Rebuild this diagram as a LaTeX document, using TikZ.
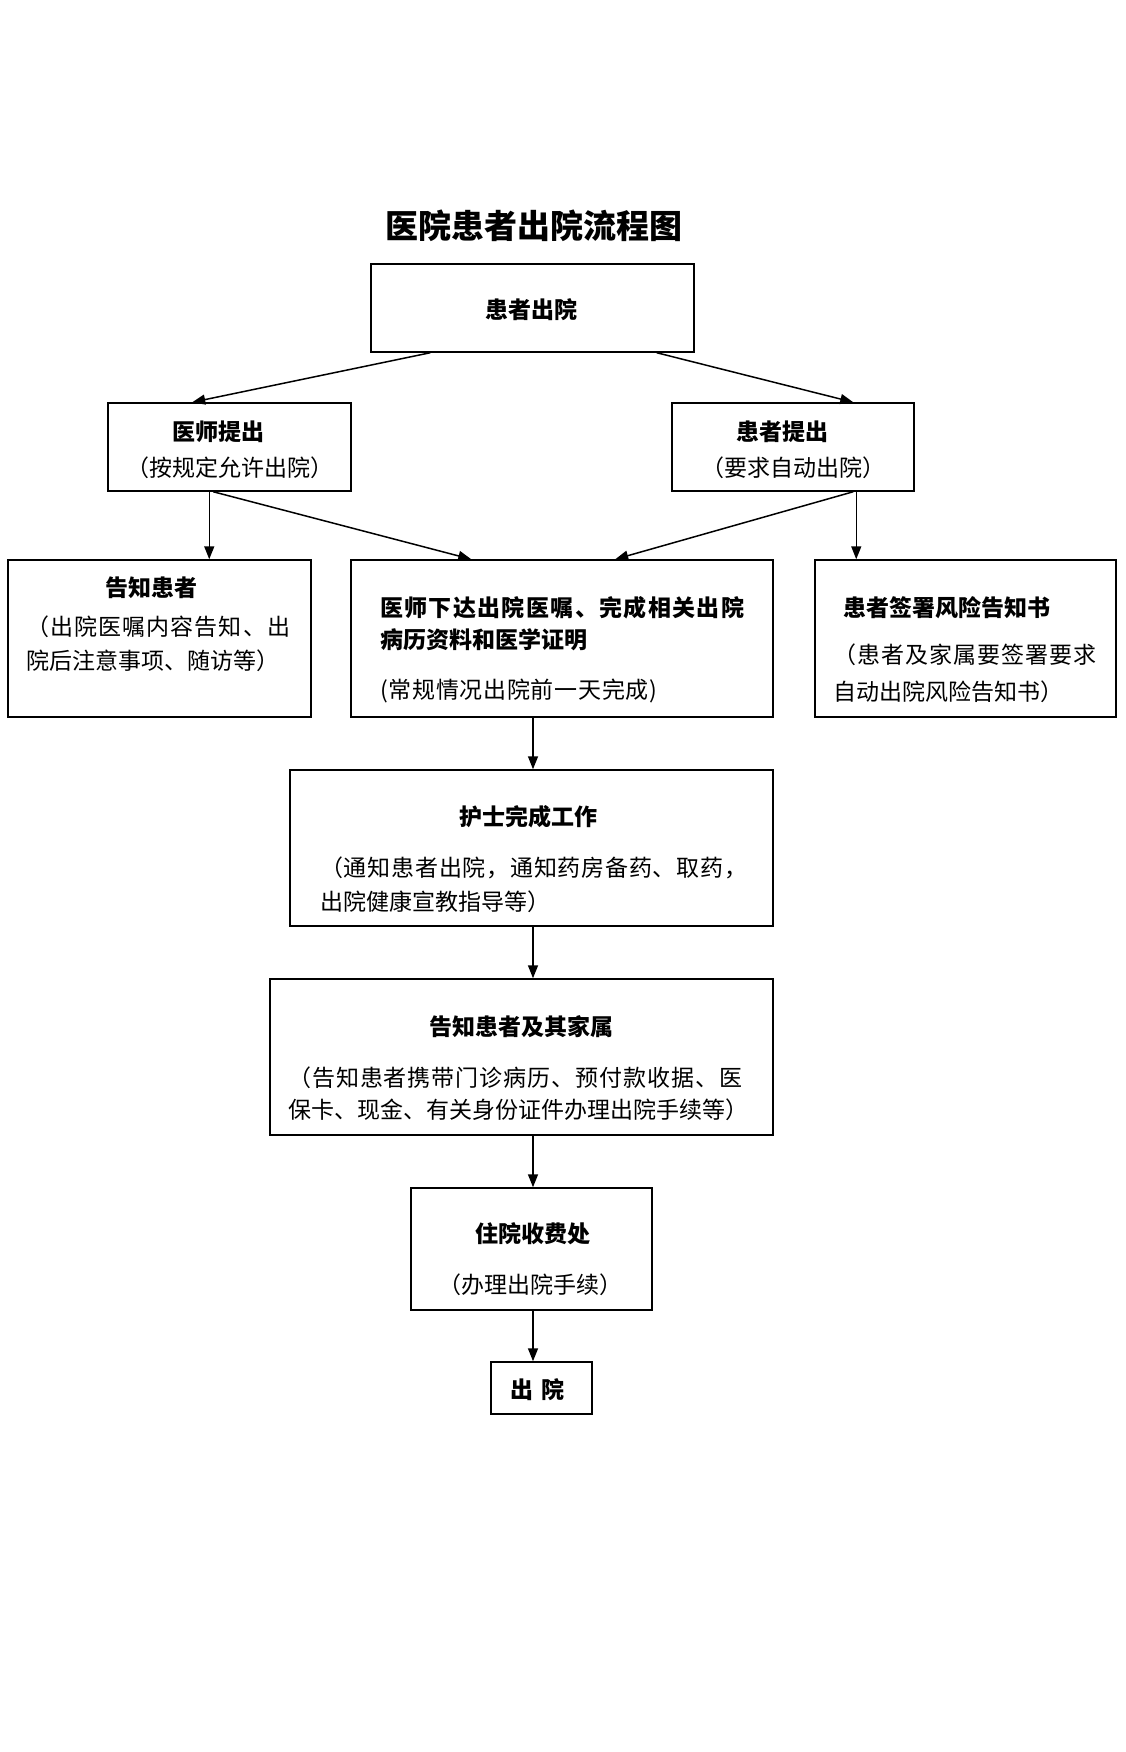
\documentclass[tikz,border=0pt]{standalone}
\usepackage{fontspec}
\setmainfont{Noto Sans CJK SC}
\usetikzlibrary{arrows.meta}
\makeatletter
\def\sp@loop#1{\ifx#1\relax\else#1\hfil\expandafter\sp@loop\fi}
\newcommand{\jline}[2]{\hbox to #1{\sp@loop#2\relax\unskip}}
\makeatother
\tikzset{
  box/.style={draw, line width=1.5pt, inner sep=0pt},
  hd/.style={font=\bfseries\fontsize{23}{23}\selectfont, inner sep=0pt, anchor=base},
  sb/.style={font=\fontsize{23}{23}\selectfont, inner sep=0pt, anchor=base},
  sbl/.style={sb, anchor=base west},
  hdl/.style={hd, anchor=base west},
  arr/.style={line width=1.5pt, -{Triangle[length=13pt,width=10pt]}},
}
\begin{document}
\begin{tikzpicture}[x=1pt,y=-1pt]
\useasboundingbox (0,0) rectangle (1125,1752);
\fill[white] (0,0) rectangle (1125,1752);

% title
\node[font=\bfseries\fontsize{33}{40}\selectfont, inner sep=0pt, anchor=base] (title) at (533.5,238.5) {医院患者出院流程图};

% boxes
\node[box, minimum width=323pt, minimum height=88pt] (top) at (532.5,308) {};
\node[box, minimum width=243pt, minimum height=88pt] (L1) at (229.5,447) {};
\node[box, minimum width=242pt, minimum height=88pt] (R1) at (793,447) {};
\node[box, minimum width=303pt, minimum height=157pt] (L2) at (159.5,638.5) {};
\node[box, minimum width=422pt, minimum height=157pt] (M2) at (562,638.5) {};
\node[box, minimum width=301pt, minimum height=157pt] (R2) at (965.5,638.5) {};
\node[box, minimum width=483pt, minimum height=156pt] (N) at (531.5,848) {};
\node[box, minimum width=503pt, minimum height=156pt] (F) at (521.5,1057) {};
\node[box, minimum width=241pt, minimum height=122pt] (fee) at (531.5,1249) {};
\node[box, minimum width=101pt, minimum height=52pt] (out) at (541.5,1388) {};

% texts
\node[hd] (topt) at (531.5,318.7) {患者出院};
\node[hd] (L1t) at (218.5,440.7) {医师提出};
\node[sb] (L1s) at (229.5,476.7) {（按规定允许出院）};
\node[hd] (R1t) at (782.5,440.7) {患者提出};
\node[sb] (R1s) at (793.5,476.7) {（要求自动出院）};

\node[hd] (L2t) at (151,596.7) {告知患者};
\node[sbl] (L2a) at (26,635.7) {\jline{264pt}{（出院医嘱内容告知、出}};
\node[sbl] (L2b) at (26,669.7) {院后注意事项、随访等）};

\node[hdl] (M2a) at (380,616.7) {\jline{364pt}{医师下达出院医嘱、完成相关出院}};
\node[hdl] (M2b) at (380,648.7) {病历资料和医学证明};
\node[sbl] (M2s) at (380,698.7) {\jline{277pt}{(常规情况出院前一天完成)}};

\node[hd] (R2t) at (947,616.7) {患者签署风险告知书};
\node[sbl] (R2a) at (833,663.7) {\jline{263pt}{（患者及家属要签署要求}};
\node[sbl] (R2b) at (833,700.7) {自动出院风险告知书）};

\node[hd] (Nt) at (528.5,825.7) {护士完成工作};
\node[sbl] (Na) at (320,876.7) {\jline{427pt}{（通知患者出院，通知药房备药、取药，}};
\node[sbl] (Nb) at (320,910.7) {出院健康宣教指导等）};

\node[hd] (Ft) at (521.5,1035.7) {告知患者及其家属};
\node[sbl] (Fa) at (288,1086.7) {\jline{454pt}{（告知患者携带门诊病历、预付款收据、医}};
\node[sbl] (Fb) at (288,1118.7) {保卡、现金、有关身份证件办理出院手续等）};

\node[hd] (feet) at (532.5,1242.7) {住院收费处};
\node[sb] (fees) at (530,1293.7) {（办理出院手续）};

\node[hd] (outt) at (537.5,1398.7) {出\hspace{8pt}院};

% connectors
\draw[arr] ([xshift=60pt]top.south west) -- ([xshift=85pt]L1.north west);
\draw[arr] ([xshift=-38pt]top.south east) -- ([xshift=182pt]R1.north west);
\coordinate (pL) at ([xshift=102pt]L1.south west);
\draw[arr] (pL) -- (pL |- L2.north);
\draw[arr] ([xshift=106pt]L1.south west) -- ([xshift=121pt]M2.north west);
\draw[arr] ([xshift=182pt]R1.south west) -- ([xshift=265pt]M2.north west);
\coordinate (pR) at ([xshift=185pt]R1.south west);
\draw[arr] (pR) -- (pR |- R2.north);
\coordinate (cx) at (533,0);
\draw[arr] (M2.south -| cx) -- (N.north -| cx);
\draw[arr] (N.south -| cx) -- (F.north -| cx);
\draw[arr] (F.south -| cx) -- (fee.north -| cx);
\draw[arr] (fee.south -| cx) -- (out.north -| cx);
\end{tikzpicture}
\end{document}
